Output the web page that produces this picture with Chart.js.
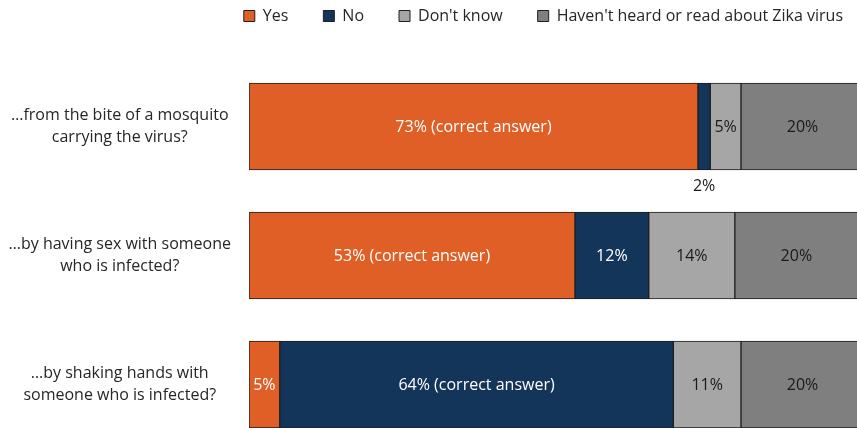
<!DOCTYPE html>
<html>
<head>
<meta charset="utf-8">
<script src="https://cdn.jsdelivr.net/npm/chart.js@4"></script>
<style>
html, body { margin: 0; padding: 0; background: #fff; overflow: hidden; }
#wrap { width: 857px; height: 428px; overflow: hidden; position: relative; }
canvas { display: block; }
</style>
</head>
<body>
<div id="wrap"><canvas id="zika" width="864" height="449"></canvas></div>
<script>
// ---------- data ----------
const questions = [
    ['\u2026from the bite of a mosquito', 'carrying the virus?'],
    ['\u2026by having sex with someone', 'who is infected?'],
    ['\u2026by shaking hands with', 'someone who is infected?']
];
const seriesNames = ['Yes', 'No', "Don't know", "Haven't heard or read about Zika virus"];
const yesValues = [73, 53, 5];
const noValues = [2, 12, 64];
const dontKnowValues = [5, 14, 11];
const notHeardValues = [20, 20, 20];
// which series holds the correct answer for each question
const correctSeries = [0, 0, 1];

const colors = ['#E05F27', '#14355A', '#A6A6A6', '#7F7F7F'];
const textColors = ['#ffffff', '#ffffff', '#1a1a1a', '#1a1a1a'];
const FONT = '"Open Sans"';
const FONT_SIZE = 16;
const LEGEND_PAD = 35;

// labels inside the segments (tiny ones go under the bar)
const barLabels = {
    id: 'barLabels',
    afterDatasetsDraw(chart) {
        const ctx = chart.ctx;
        ctx.save();
        ctx.font = FONT_SIZE + 'px ' + FONT;
        ctx.textAlign = 'center';
        ctx.textBaseline = 'middle';
        chart.data.datasets.forEach((ds, di) => {
            const meta = chart.getDatasetMeta(di);
            meta.data.forEach((bar, i) => {
                let text = ds.data[i] + '%';
                if (correctSeries[i] === di) text += ' (correct answer)';
                const cx = (bar.x + bar.base) / 2;
                let cy = bar.y + 1;
                ctx.fillStyle = textColors[di];
                if (Math.abs(bar.x - bar.base) < 20) {
                    cy = bar.y + bar.height / 2 + 16;
                    ctx.fillStyle = '#1a1a1a';
                }
                ctx.fillText(text, cx, cy);
            });
        });
        ctx.restore();
    }
};

// legend height / position tweaks
const legendTweak = {
    id: 'legendTweak',
    beforeLayout(chart) {
        const lg = chart.legend;
        if (lg && !lg._patched) {
            const fit = lg.fit;
            lg.fit = function () { fit.call(this); this.height = 62; };
            lg._patched = true;
        }
    },
    afterLayout(chart) {
        const lg = chart.legend;
        lg.top = 16 - FONT_SIZE / 2 - LEGEND_PAD;
        lg.bottom = lg.top + lg.height;
        lg.left += 14;
        lg.right += 14;
    }
};

const datasets = [yesValues, noValues, dontKnowValues, notHeardValues].map((vals, k) => ({
    label: seriesNames[k],
    data: vals,
    backgroundColor: colors[k],
    borderColor: '#1e1e1e',
    borderWidth: 1,
    borderSkipped: false,
    barThickness: 87
}));

new Chart(document.getElementById('zika'), {
    type: 'bar',
    data: { labels: questions, datasets: datasets },
    options: {
        indexAxis: 'y',
        responsive: false,
        animation: false,
        devicePixelRatio: 1,
        layout: { padding: 0 },
        scales: {
            x: { stacked: true, min: 0, max: 100, display: false },
            y: {
                stacked: true,
                grid: { display: false, drawTicks: false },
                border: { display: false },
                ticks: {
                    color: '#262626',
                    font: { family: FONT, size: FONT_SIZE, lineHeight: 1.4 },
                    crossAlign: 'center',
                    padding: 18
                },
                afterFit(scale) {
                    scale.width = 249;
                    scale.paddingTop = 0;
                    scale.paddingBottom = 0;
                }
            }
        },
        plugins: {
            legend: {
                position: 'top',
                align: 'end',
                labels: {
                    boxWidth: 11,
                    boxHeight: 11,
                    padding: LEGEND_PAD,
                    color: '#262626',
                    font: { family: FONT, size: FONT_SIZE }
                }
            },
            tooltip: { enabled: false }
        }
    },
    plugins: [barLabels, legendTweak]
});
</script>
</body>
</html>
